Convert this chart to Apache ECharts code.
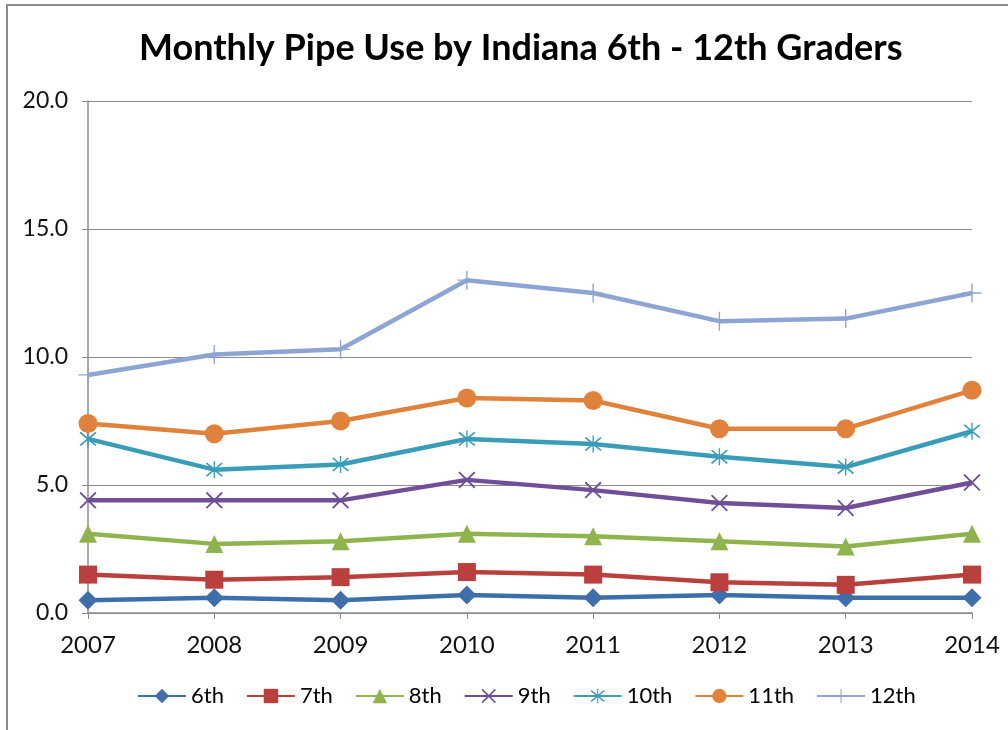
<!DOCTYPE html>
<html>
<head>
<meta charset="utf-8">
<script src="https://cdn.jsdelivr.net/npm/echarts@6/dist/echarts.min.js"></script>
<style>
  html, body { margin: 0; padding: 0; background: #fff; overflow: hidden; }
  #frame { position: absolute; left: 6px; top: 4px; width: 1010px; height: 740px; border: 2px solid #8c8c8c; box-sizing: border-box; }
  #chart { position: absolute; left: 0; top: 0; width: 1008px; height: 730px; }
</style>
</head>
<body>
<div id="frame"></div>
<div id="chart"></div>
<script>
  // 数据
  const years = ["2007", "2008", "2009", "2010", "2011", "2012", "2013", "2014"];
  const grade6 = [0.5, 0.6, 0.5, 0.7, 0.6, 0.7, 0.6, 0.6];
  const grade7 = [1.5, 1.3, 1.4, 1.6, 1.5, 1.2, 1.1, 1.5];
  const grade8 = [3.1, 2.7, 2.8, 3.1, 3.0, 2.8, 2.6, 3.1];
  const grade9 = [4.4, 4.4, 4.4, 5.2, 4.8, 4.3, 4.1, 5.1];
  const grade10 = [6.8, 5.6, 5.8, 6.8, 6.6, 6.1, 5.7, 7.1];
  const grade11 = [7.4, 7.0, 7.5, 8.4, 8.3, 7.2, 7.2, 8.7];
  const grade12 = [9.3, 10.1, 10.3, 13.0, 12.5, 11.4, 11.5, 12.5];

  const crossPath = "path://M1.5,0 L20,18.5 L18.5,20 L0,1.5 Z M18.5,0 L20,1.5 L1.5,20 L0,18.5 Z";
  const starPath = "path://M1.5,0 L20,18.5 L18.5,20 L0,1.5 Z M18.5,0 L20,1.5 L1.5,20 L0,18.5 Z M9.2,-2 L10.8,-2 L10.8,22 L9.2,22 Z";
  const plusPath = "path://M9.3,0 L10.7,0 L10.7,20 L9.3,20 Z M0,9.3 L20,9.3 L20,10.7 L0,10.7 Z";

  function makeSeries(name, data, color, symbol, size) {
    return {
      name: name,
      type: "line",
      data: data,
      symbol: symbol,
      symbolSize: size,
      showAllSymbol: true,
      lineStyle: { color: color, width: 4.5 },
      itemStyle: { color: color },
      emphasis: { disabled: true },
      z: 3
    };
  }

  var myChart = echarts.init(document.getElementById("chart"));
  myChart.setOption({
    animation: false,
    textStyle: { fontFamily: "Lato" },
    title: {
      text: "Monthly Pipe Use by Indiana 6th - 12th Graders",
      left: 134,
      top: 25,
      textStyle: { fontSize: 36, fontWeight: "bold", color: "#000", fontFamily: "Lato" }
    },
    legend: {
      bottom: 18,
      left: 132,
      itemWidth: 48,
      itemHeight: 18,
      itemGap: 22,
      textStyle: { fontSize: 22, color: "#000" },
      data: ["6th", "7th", "8th", "9th", "10th", "11th", "12th"]
    },
    grid: { left: 88, right: 36, top: 101, bottom: 117, containLabel: false },
    xAxis: {
      type: "category",
      data: years,
      boundaryGap: false,
      axisLine: { lineStyle: { color: "#8c8c8c", width: 1.5 } },
      axisTick: { show: true, alignWithLabel: true, length: 6, lineStyle: { color: "#8c8c8c" } },
      axisLabel: { fontSize: 24, color: "#111", margin: 20 },
      splitLine: { show: false }
    },
    yAxis: {
      type: "value",
      min: 0,
      max: 20,
      interval: 5,
      axisLine: { show: true, lineStyle: { color: "#8c8c8c", width: 1.5 } },
      axisTick: { show: true, length: 6, lineStyle: { color: "#8c8c8c" } },
      axisLabel: { fontSize: 23, color: "#111", margin: 20, formatter: v => v.toFixed(1) },
      splitLine: { lineStyle: { color: "#8c8c8c", width: 1.2 } }
    },
    series: [
      makeSeries("6th", grade6, "#3f6faa", "diamond", 19),
      makeSeries("7th", grade7, "#b9403d", "rect", 18),
      makeSeries("8th", grade8, "#8fb44e", "triangle", 18),
      makeSeries("9th", grade9, "#6f4f97", crossPath, 17),
      makeSeries("10th", grade10, "#3a9db8", starPath, 17),
      makeSeries("11th", grade11, "#e0823b", "circle", 19),
      makeSeries("12th", grade12, "#8ea4d2", plusPath, 19)
    ]
  });
</script>
</body>
</html>
